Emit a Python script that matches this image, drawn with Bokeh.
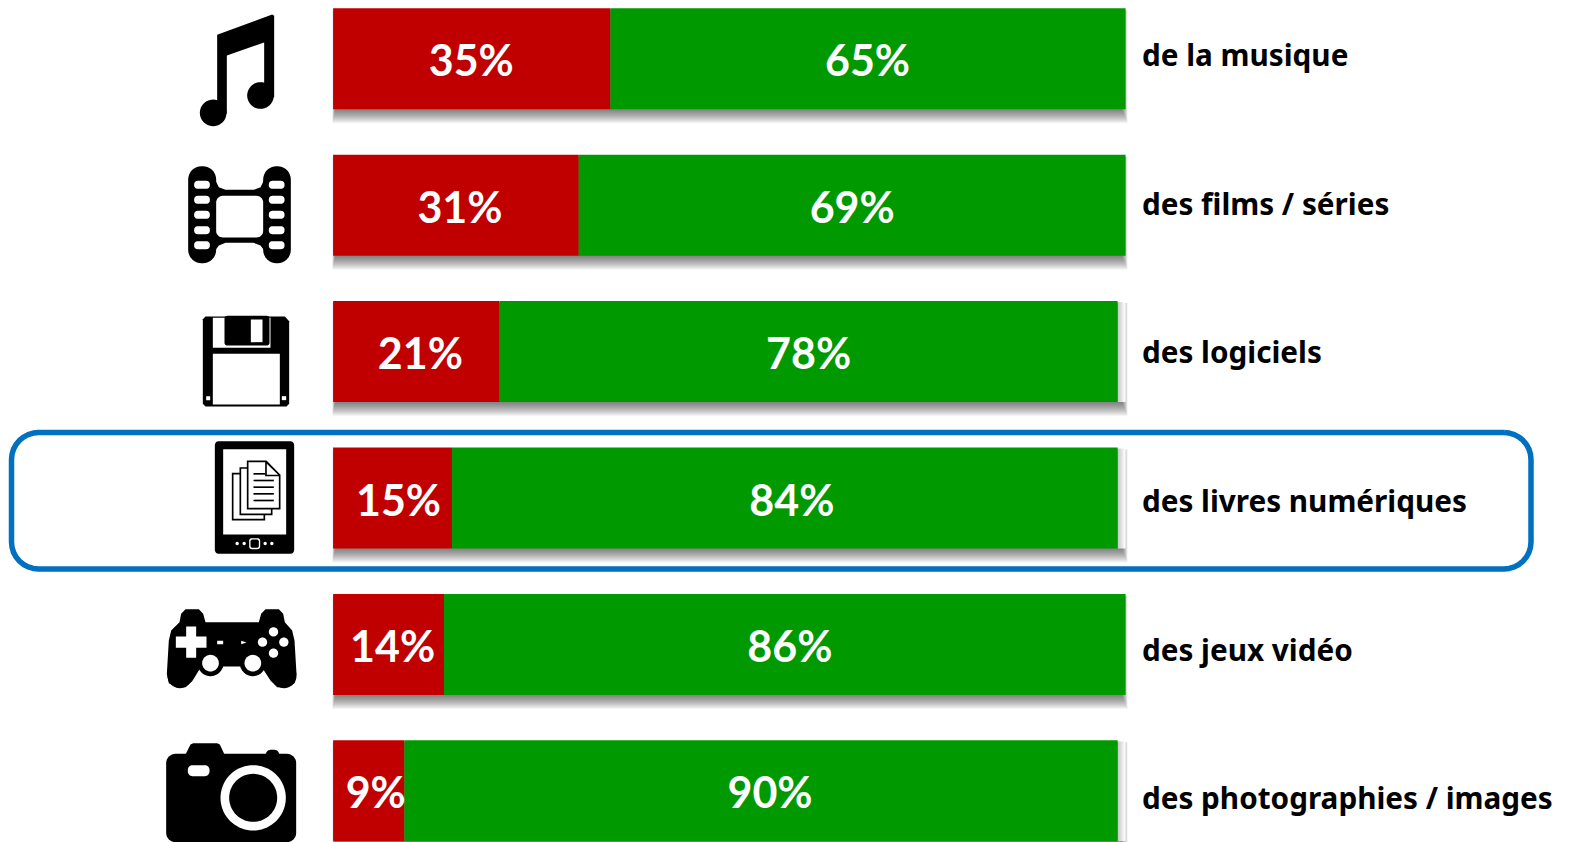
import math
from bokeh.plotting import figure
from bokeh.models import Range1d
from bokeh.core.properties import value
from bokeh.embed import file_html
from bokeh.resources import INLINE

# ---- data ----
categories = ["de la musique", "des films / séries", "des logiciels",
              "des livres numériques", "des jeux vidéo", "des photographies / images"]
red_values = [35, 31, 21, 15, 14, 9]
green_values = [65, 69, 78, 84, 86, 90]
rest_values = [0, 0, 1, 1, 0, 1]

# hand-placed label shifts of the original (screen px)
red_shift = [-0.5, 4, 4, 6, 4, 7]
green_shift = [-0.5, 0, 0, 7, 5, 9]

RED, GREEN, BLUE = "#C00000", "#009900", "#0070C0"
W, H = 1573, 842
X0 = 332.6; PX_PCT = 7.925          # image px of 0 %, px per 1 %
ROW0 = 58.3; PITCH = 146.4          # image y of first row centre, row pitch
BAR_H = 101 / PITCH

p = figure(width=W, height=H, output_backend="svg", toolbar_location=None,
           x_range=Range1d((0 - X0) / PX_PCT, (W - X0) / PX_PCT),
           y_range=Range1d((H - ROW0) / PITCH, (0 - ROW0) / PITCH),
           min_border=0, min_border_left=0, min_border_right=0, min_border_top=0, min_border_bottom=0)
p.xaxis.visible = False; p.yaxis.visible = False
p.grid.visible = False; p.outline_line_color = None
p.background_fill_color = "white"; p.border_fill_color = "white"
# a second pair of ranges in page pixels, for the drawn pictograms and decorations
p.extra_x_ranges = {"px": Range1d(0, W)}
p.extra_y_ranges = {"px": Range1d(H, 0)}
PX = dict(x_range_name="px", y_range_name="px")

rows = list(range(len(categories)))

def poly(pts, color="black"):
    p.patch([a for a, _ in pts], [b for _, b in pts], fill_color=color, line_color=None, **PX)

def rrect_pts(x0, y0, x1, y1, r, n=8):
    pts = []
    for cx, cy, a0 in ((x1 - r, y0 + r, -90), (x1 - r, y1 - r, 0), (x0 + r, y1 - r, 90), (x0 + r, y0 + r, 180)):
        for i in range(n + 1):
            a = math.radians(a0 + 90 * i / n)
            pts.append((cx + r * math.cos(a), cy + r * math.sin(a)))
    return pts

def circ_pts(cx, cy, r, n=40):
    return [(cx + r * math.cos(2 * math.pi * i / n), cy + r * math.sin(2 * math.pi * i / n)) for i in range(n)]

def zoomer(ox, oy):
    return lambda pts: [(ox + a / 3, oy + b / 3) for a, b in pts]

# ---- bar shadows ----
for r in rows:
    top = ROW0 + PITCH * r - BAR_H * PITCH / 2
    bot = top + BAR_H * PITCH
    for k in range(1, 15):
        p.quad(left=[331.6 + k * 0.22], right=[1127.6 - k * 0.42], top=[top + 2], bottom=[bot + 15 - k],
               fill_color="#000000", fill_alpha=0.045, line_color=None, **PX)

# ---- bars ----
green_left = red_values
green_right = [a + b for a, b in zip(red_values, green_values)]
rest_right = [a + b for a, b in zip(green_right, rest_values)]
p.hbar(y=rows, left=green_right, right=rest_right, height=BAR_H, fill_color="white", line_color=None)
for r in rows:
    if rest_values[r]:
        e = X0 + green_right[r] * PX_PCT
        top = ROW0 + PITCH * r - BAR_H * PITCH / 2
        for k in range(1, 8):
            p.quad(left=[e], right=[e + k], top=[top + 1], bottom=[top + BAR_H * PITCH],
                   fill_color="#000000", fill_alpha=0.03, line_color=None, **PX)
p.hbar(y=rows, left=0, right=red_values, height=BAR_H, fill_color=RED, line_color=None)
p.hbar(y=rows, left=green_left, right=green_right, height=BAR_H, fill_color=GREEN, line_color=None)

# ---- labels in the bars ----
pct_font = dict(text_font=value("Lato"), text_font_style="bold", text_font_size="43px",
                text_color="white", text_align="center", text_baseline="alphabetic")
p.text(x=[v / 2 for v in red_values], y=rows, text=[f"{v}%" for v in red_values],
       x_offset=red_shift, y_offset=[1] * 6, **pct_font)
p.text(x=[(a + b) / 2 for a, b in zip(green_left, green_right)], y=rows,
       text=[f"{v}%" for v in green_values],
       x_offset=green_shift, y_offset=[1] * 6, **pct_font)

# ---- category labels ----
p.text(x=[1141.5] * 6, y=[54.3 + 148.55 * r for r in rows], text=categories,
       text_font=value("Noto Sans"), text_font_style="bold", text_font_size="29.7px",
       text_color="black", text_align="left", text_baseline="alphabetic", **PX)

# ---- highlight box ----
bx = rrect_pts(11, 432, 1530.5, 568.5, 27)
p.line([a for a, _ in bx] + [bx[0][0]], [b for _, b in bx] + [bx[0][1]], line_color=BLUE, line_width=5.5, **PX)

# ---- pictograms ----
z = zoomer(150, 0)
poly(z([(200, 103), (365, 42), (371, 46), (371, 290), (341, 290), (341, 126), (229, 165), (229, 340), (200, 340)]))
poly(z(circ_pts(330, 285, 40)))
poly(z(circ_pts(188, 337, 40)))

# film
poly(z(rrect_pts(113, 497, 197, 788, 40)))
poly(z(rrect_pts(338, 497, 421, 788, 40)))
poly(z([(190, 530), (205, 560), (225, 568), (310, 568), (330, 560), (345, 530), (345, 755), (330, 735),
        (310, 727), (225, 727), (205, 735), (190, 755)]))
poly(z(rrect_pts(197, 586, 338, 711, 20)), "white")
for yy in (541, 586, 631, 677, 722):
    poly(z(rrect_pts(131, yy, 178, yy + 24, 10)), "white")
    poly(z(rrect_pts(355, yy, 402, yy + 24, 10)), "white")

# floppy
z = zoomer(150, 290)
poly(z([(165, 78), (403, 78), (416, 92), (416, 340), (408, 348), (165, 348), (157, 340), (157, 86)]))
poly(z([(187, 82), (360, 82), (360, 172), (187, 172)]), "white")
poly(z(rrect_pts(222, 76, 357, 165, 8)))
poly(z([(301, 87), (336, 87), (336, 155), (301, 155)]), "white")
poly(z([(187, 190), (388, 190), (388, 342), (187, 342)]), "white")
poly(z([(167, 317), (179, 317), (179, 329), (167, 329)]), "white")
poly(z([(394, 317), (407, 317), (407, 329), (394, 329)]), "white")

# e-reader
poly(z(rrect_pts(193, 452, 431, 790, 12)))
poly(z([(218, 476), (407, 476), (407, 732), (218, 732)]), "white")
poly(z(rrect_pts(296, 743, 329, 776, 8)), "white")
poly(z(rrect_pts(300, 747, 325, 772, 6)))
for cx in (260, 281, 344, 364):
    poly(z(circ_pts(cx, 759, 5, 16)), "white")
poly(z([(244, 547), (344, 547), (344, 690), (244, 690)]))
poly(z([(249, 552), (339, 552), (339, 685), (249, 685)]), "white")
poly(z([(267, 530), (366, 530), (366, 674), (267, 674)]))
poly(z([(272, 535), (361, 535), (361, 669), (272, 669)]), "white")
poly(z([(289, 510), (348, 510), (390, 553), (390, 657), (289, 657)]))
poly(z([(294, 515), (344, 515), (344, 557), (385, 557), (385, 652), (294, 652)]), "white")
poly(z([(349, 520), (383, 553), (349, 553)]), "white")
for i, yy in enumerate((550, 570, 590, 610, 630)):
    xe = 345 if i == 0 else 370
    poly(z([(309, yy - 2.5), (xe, yy - 2.5), (xe, yy + 2.5), (309, yy + 2.5)]))

# game pad
z = zoomer(150, 590)
poly(z([(87, 95), (92, 70), (105, 56), (145, 56), (158, 70), (165, 95), (325, 95), (332, 70), (345, 56),
        (385, 56), (398, 70), (403, 95), (425, 120), (432, 150), (438, 250), (432, 278), (405, 292),
        (380, 290), (360, 270), (335, 232), (325, 250), (307, 257), (290, 250), (280, 228), (205, 228),
        (198, 245), (180, 257), (162, 250), (150, 232), (125, 272), (105, 290), (80, 292), (55, 278),
        (49, 250), (55, 150), (62, 120)]))
poly(z(circ_pts(88, 256, 37)))
poly(z(circ_pts(401, 256, 37)))
poly(z(circ_pts(180, 218, 39)))
poly(z(circ_pts(307, 218, 39)))
poly(z([(107, 108), (137, 108), (137, 138), (168, 138), (168, 172), (137, 172), (137, 202), (107, 202),
        (107, 172), (76, 172), (76, 138), (107, 138)]), "white")
for cx, cy, rr in ((180, 218, 25), (307, 218, 25), (369, 124, 14), (336, 155, 14), (400, 155, 14), (369, 188, 14)):
    poly(z(circ_pts(cx, cy, rr)), "white")
poly(z([(200, 151), (218, 151), (218, 161), (200, 161)]), "white")
poly(z([(272, 151), (288, 156), (272, 161)]), "white")

# camera
poly(z(rrect_pts(47, 490, 437, 755, 28)))
poly(z([(105, 492), (120, 462), (128, 458), (200, 458), (208, 462), (222, 492)]))
poly(z(rrect_pts(346, 478, 386, 505, 14)))
poly(z(rrect_pts(112, 524, 177, 557, 14)), "white")
poly(z(circ_pts(308, 622, 98, 72)), "white")
poly(z(circ_pts(308, 622, 72, 72)))

open("out.html", "w").write(file_html(p, INLINE))
